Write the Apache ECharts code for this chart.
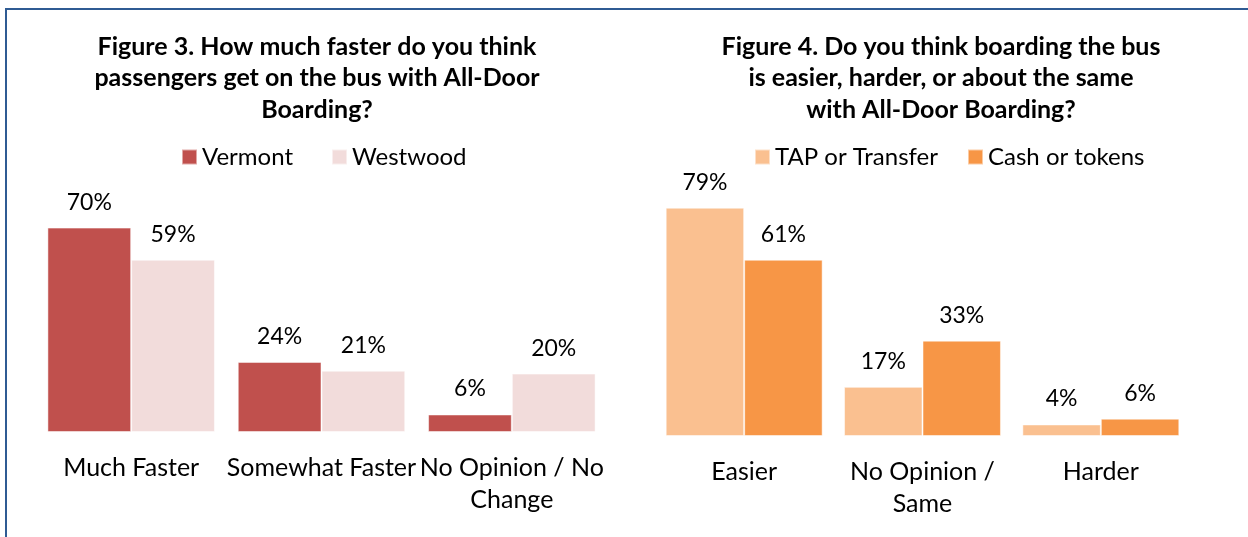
<!DOCTYPE html>
<html>
<head>
<meta charset="utf-8">
<script src="https://cdn.jsdelivr.net/npm/echarts@6/dist/echarts.min.js"></script>
<style>
  html, body { margin: 0; padding: 0; background: #fff; }
  #main { width: 1248px; height: 537px; }
</style>
</head>
<body>
<div id="main"></div>
<script>
// Figure 3 data
var fig3Categories = ['Much Faster', 'Somewhat Faster', 'No Opinion / No\nChange']
var fig3Vermont = [70, 24, 6]
var fig3Westwood = [59, 21, 20]

// Figure 4 data
var fig4Categories = ['Easier', 'No Opinion /\nSame', 'Harder']
var fig4Tap = [79, 17, 4]
var fig4Cash = [61, 33, 6]

var FONT = 'Lato'
var chart = echarts.init(document.getElementById('main'))

function pctLabel() {
  return {
    show: true,
    position: 'top',
    distance: 14,
    formatter: '{c}%',
    color: '#000',
    fontFamily: FONT,
    fontSize: 23
  }
}

function catAxis(idx, data) {
  return {
    type: 'category',
    gridIndex: idx,
    data: data,
    axisLine: { show: false },
    axisTick: { show: false },
    axisLabel: {
      color: '#000',
      fontFamily: FONT,
      fontSize: 25,
      lineHeight: 32,
      margin: 20,
      interval: 0
    }
  }
}

function valAxis(idx) {
  return {
    type: 'value',
    gridIndex: idx,
    min: 0,
    max: 100,
    show: false,
    splitLine: { show: false }
  }
}

var titleStyle = {
  color: '#000',
  fontFamily: FONT,
  fontWeight: 'bold',
  fontSize: 25,
  lineHeight: 31.5
}

var option = {
  animation: false,
  backgroundColor: '#fff',
  title: [
    {
      text: 'Figure 3. How much faster do you think\npassengers get on the bus with All-Door\nBoarding?',
      left: 312,
      top: 26,
      textAlign: 'center',
      textStyle: titleStyle
    },
    {
      text: 'Figure 4. Do you think boarding the bus\nis easier, harder, or about the same\nwith All-Door Boarding?',
      left: 936,
      top: 26,
      textAlign: 'center',
      textStyle: titleStyle
    }
  ],
  legend: [
    {
      left: 176,
      top: 140,
      itemWidth: 15,
      itemHeight: 15,
      itemGap: 38,
      icon: 'rect',
      data: ['Vermont', 'Westwood'],
      textStyle: { color: '#000', fontFamily: FONT, fontSize: 24 }
    },
    {
      left: 749,
      top: 140,
      itemWidth: 15,
      itemHeight: 15,
      itemGap: 29,
      icon: 'rect',
      data: ['TAP or Transfer', 'Cash or tokens'],
      textStyle: { color: '#000', fontFamily: FONT, fontSize: 24 }
    }
  ],
  grid: [
    { left: 36, width: 571, top: 140, height: 292 },
    { left: 655, width: 535, top: 147, height: 289 }
  ],
  xAxis: [catAxis(0, fig3Categories), catAxis(1, fig4Categories)],
  yAxis: [valAxis(0), valAxis(1)],
  graphic: [
    {
      type: 'polyline',
      shape: { points: [[6, 537], [6, 9], [1248, 9]] },
      style: { stroke: '#2f5b93', lineWidth: 2, fill: null }
    }
  ],
  series: [
    {
      name: 'Vermont',
      type: 'bar',
      xAxisIndex: 0,
      yAxisIndex: 0,
      data: fig3Vermont,
      barWidth: '44%',
      barGap: '0%',
      itemStyle: { color: '#C0504D', borderColor: 'rgba(255,255,255,0.5)', borderWidth: 1 },
      label: pctLabel()
    },
    {
      name: 'Westwood',
      type: 'bar',
      xAxisIndex: 0,
      yAxisIndex: 0,
      data: fig3Westwood,
      barWidth: '44%',
      barGap: '0%',
      itemStyle: { color: '#F2DCDB', borderColor: 'rgba(255,255,255,0.5)', borderWidth: 1 },
      label: pctLabel()
    },
    {
      name: 'TAP or Transfer',
      type: 'bar',
      xAxisIndex: 1,
      yAxisIndex: 1,
      data: fig4Tap,
      barWidth: '44%',
      barGap: '0%',
      itemStyle: { color: '#FAC090', borderColor: 'rgba(255,255,255,0.5)', borderWidth: 1 },
      label: pctLabel()
    },
    {
      name: 'Cash or tokens',
      type: 'bar',
      xAxisIndex: 1,
      yAxisIndex: 1,
      data: fig4Cash,
      barWidth: '44%',
      barGap: '0%',
      itemStyle: { color: '#F79646', borderColor: 'rgba(255,255,255,0.5)', borderWidth: 1 },
      label: pctLabel()
    }
  ]
}

chart.setOption(option)
</script>
</body>
</html>
